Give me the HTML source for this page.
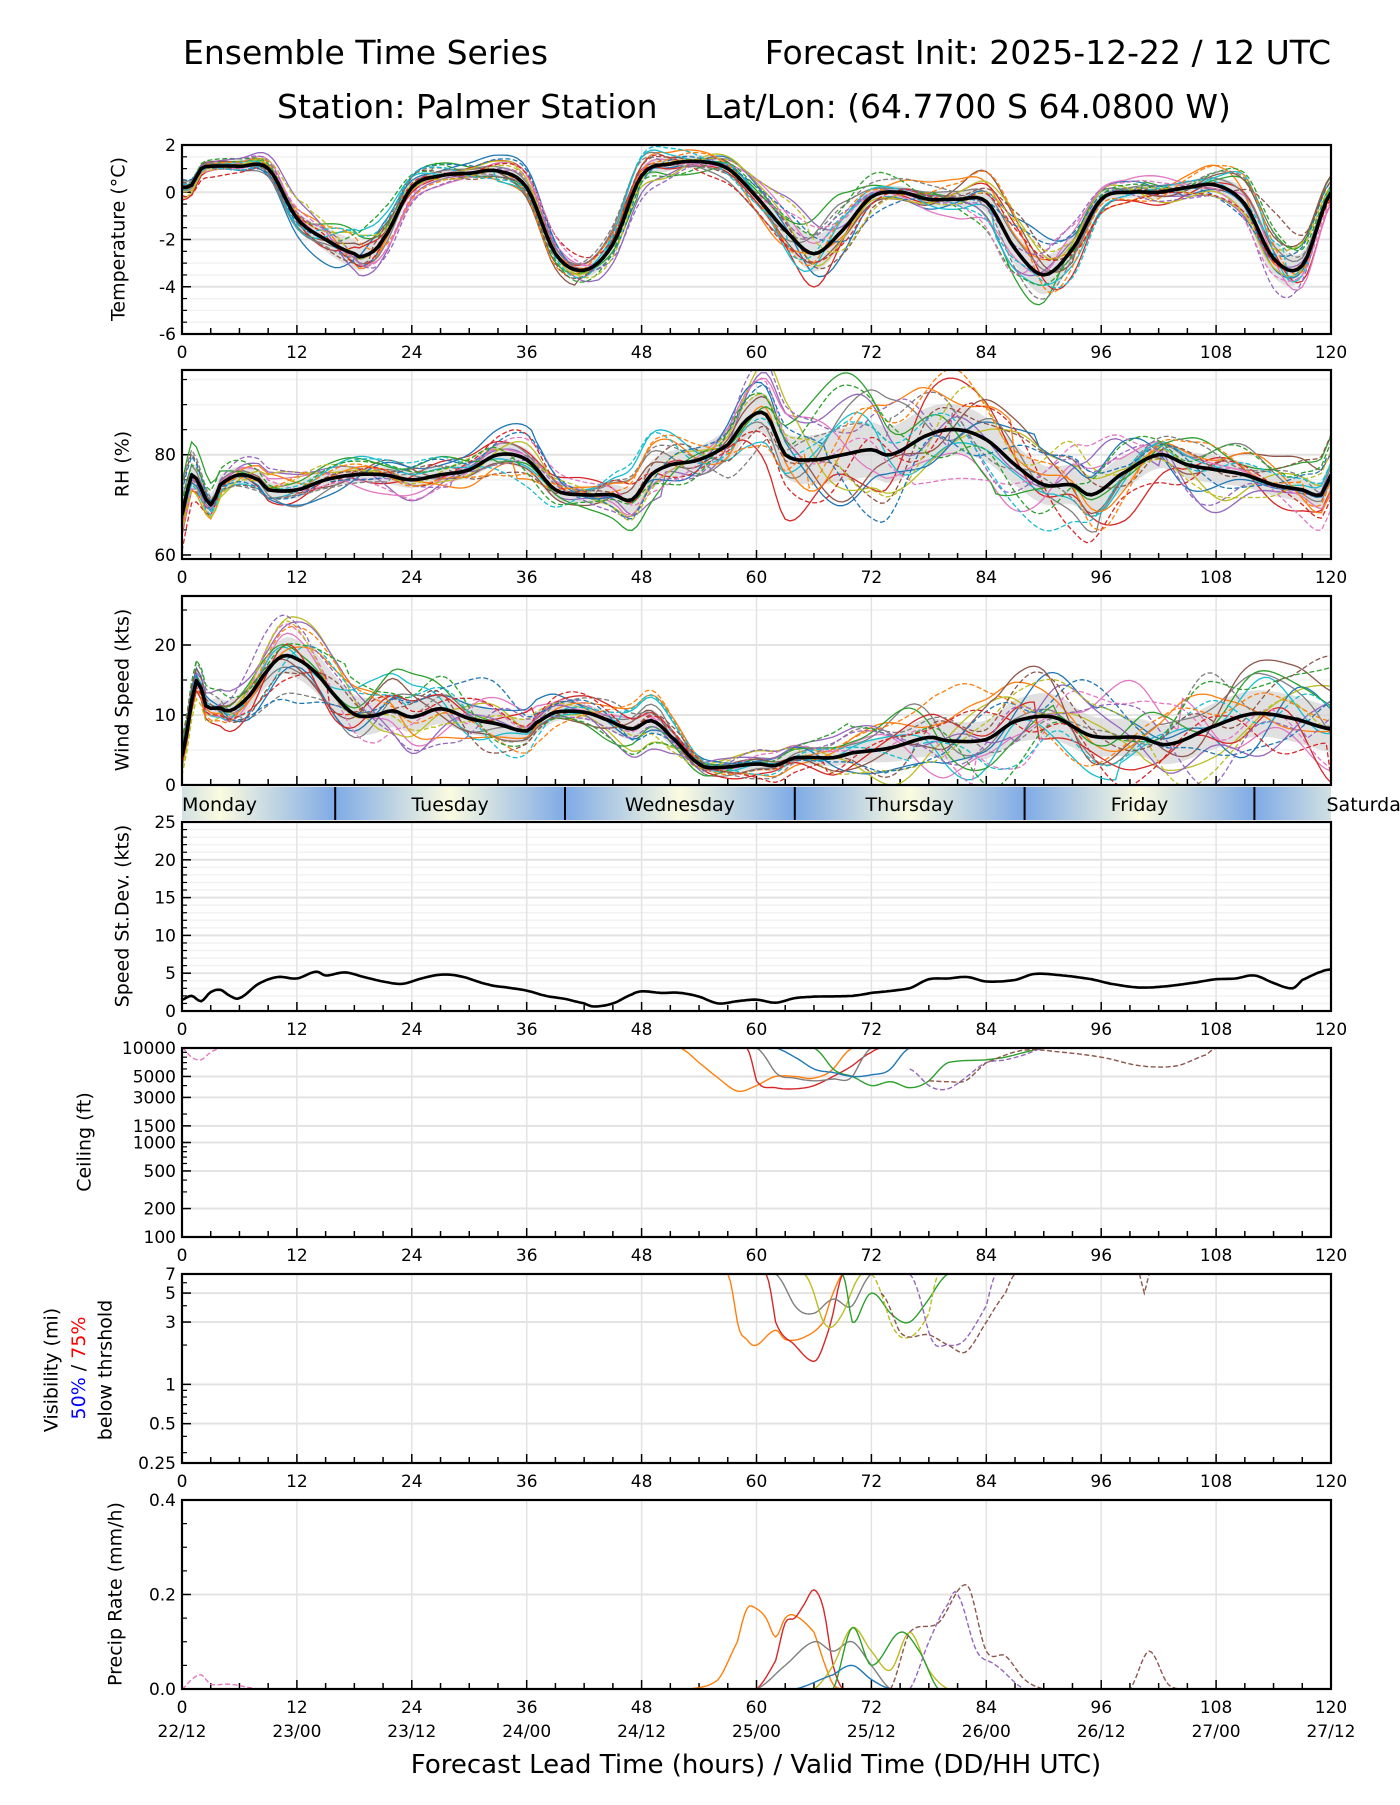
<!DOCTYPE html>
<html><head><meta charset="utf-8"><style>
html,body{margin:0;padding:0;background:#fff;}
svg text{font-family:"DejaVu Sans","Liberation Sans",sans-serif;}
</style></head><body>
<svg id="chart" xmlns="http://www.w3.org/2000/svg" width="1400" height="1800" viewBox="0 0 1400 1800">
<defs>
<linearGradient id="dayGrad" gradientUnits="userSpaceOnUse" x1="105" y1="0" x2="1407" y2="0"></linearGradient>
</defs>
<text x="183" y="64" font-size="33">Ensemble Time Series</text>
<text x="1331" y="64" font-size="33" text-anchor="end">Forecast Init: 2025-12-22 / 12 UTC</text>
<text x="277" y="118" font-size="33">Station: Palmer Station</text>
<text x="704" y="118" font-size="33">Lat/Lon: (64.7700 S 64.0800 W)</text>
<g id="layer"></g>
</svg>
<script>
// ---------- data ----------
const hoursT = [0,1,2,3,6,9,12,15,18,19,21,24,27,30,33,36,39,42,45,48,51,54,57,60,63,66,69,72,75,78,81,84,87,90,93,96,99,102,105,108,111,114,117,120];
const tempMean = [0.2,0.3,1.0,1.1,1.1,1.0,-1.1,-2.0,-2.6,-2.7,-2.0,0.2,0.7,0.8,0.9,0.2,-2.6,-3.3,-2.2,0.7,1.2,1.3,1.0,-0.2,-1.6,-2.6,-1.6,-0.2,0.0,-0.3,-0.3,-0.4,-2.4,-3.5,-2.4,-0.3,0.0,0.0,0.2,0.3,-0.5,-2.8,-3.1,0.0];
const hoursRH = [0,1,3,4,6,8,9,12,15,18,21,24,27,30,33,36,39,42,45,47,49,51,54,57,59,61,63,66,69,72,74,78,81,84,87,90,93,95,98,102,105,108,111,114,117,119,120];
const rhMean = [68,76,70,74,76,75,73,73,75,76,76,75,76,77,80,79,73,72,72,71,76,78,79,82,87,88,80,79,80,81,80,84,85,83,78,74,74,72,76,80,78,77,76,74,73,72,76];
const hoursW = [0,1.5,2.5,4,5,7,9,10.5,12,14,16,18,20,22,24,27,30,33,36,37,39,42,44,47,49,51,54,56,60,62,64,68,70,74,78,80,84,87,91,95,100,103,108,112,116,120];
const windMean = [4.1,14.9,11.3,11,10.6,12.7,16.5,18.4,18,16,12.7,10.1,9.9,10.6,9.7,10.9,9.5,8.7,7.7,8.9,10.4,10.4,9.5,8,9.2,7,3,2.5,3,2.8,3.9,3.9,4.6,5.3,6.8,6.3,6.5,9.1,9.7,7,6.8,5.8,8.5,10.2,9.5,8];
const hoursSD = [0,1,2,3,4,5,6,8,10,12,14,15,17,19,21,23,25,27,29,32,34,36,38,40,42,43,45,47,48,50,52,54,56,58,60,62,64,66,70,72,76,78,80,82,84,87,89,92,95,97,100,103,106,108,110,112,114,116,117,119,120];
const speedStd = [1.5,2.0,1.3,2.5,2.8,2.0,1.7,3.6,4.5,4.3,5.2,4.7,5.1,4.5,3.9,3.6,4.3,4.8,4.6,3.5,3.1,2.7,2.0,1.6,1.0,0.6,1.0,2.2,2.6,2.4,2.4,1.9,1.0,1.3,1.5,1.1,1.7,1.9,2.0,2.4,3.0,4.2,4.3,4.5,3.9,4.1,4.9,4.7,4.2,3.6,3.1,3.3,3.8,4.2,4.3,4.7,3.7,3.0,4.1,5.2,5.5];
const spreadHours = [0,6,12,18,24,30,36,42,48,54,60,66,72,78,84,90,96,102,108,114,120];
const tempSpread = [0.4,0.3,0.6,1.1,0.5,0.4,0.5,0.6,0.6,0.5,0.6,1.4,0.6,0.5,0.8,1.5,0.5,0.5,0.6,1.4,0.5];
const rhSpread = [5,3,3,3,3,3,4,3,5,5,7,9,10,10,8,7,7,5,5,4,5];
const windSpread = [2,3,5,5,4,4,3,2,3,1.5,1.5,2,3,5,5,6,5,5,6,6,6];
const devHours = [0,12,24,36,48,60,72,84,96,108,120];
const memberDev0 = [0.5,-1.2,0.8,1.5,-0.6,1.0,-1.4,0.3,1.2,-0.8,0.6];
const memberDev1 = [-0.8,0.9,-0.5,-1.0,1.3,-0.7,0.6,1.4,-0.9,1.1,-0.4];
const memberDev2 = [1.2,0.3,1.4,-0.6,-1.1,0.4,1.5,-1.2,0.2,0.9,1.3];
const memberDev3 = [-1.3,-0.4,0.2,0.9,0.7,-1.5,-0.3,0.8,-1.4,-0.2,-1.1];
const memberDev4 = [0.2,1.5,-1.3,0.4,-1.4,1.2,0.9,-0.5,1.0,-1.5,0.3];
const memberDev5 = [0.9,-0.9,1.0,-1.4,0.5,-0.2,-1.0,1.3,-0.3,0.5,1.5];
const memberDev6 = [-0.3,0.6,-1.1,1.2,-0.2,0.8,0.4,-1.4,1.5,0.2,-1.3];
const memberDev7 = [1.4,-1.5,0.5,-0.2,1.0,-1.1,1.2,0.1,-0.7,1.4,-0.6];
const memberDev8 = [-1.0,1.1,-0.2,0.7,-0.9,1.5,-1.2,0.9,0.6,-1.0,0.9];
const memberDev9 = [0.1,-0.2,1.3,-1.2,1.4,-0.5,0.2,-0.8,-1.1,0.7,-0.1];
const memberDevs = [memberDev0,memberDev1,memberDev2,memberDev3,memberDev4,memberDev5,memberDev6,memberDev7,memberDev8,memberDev9];
// ceiling members [hour, ft]
const ceilOrangeH = [52,54,56,58,60,62,64,66,68,70], ceilOrangeV = [10000,7000,4800,3500,4000,5000,5000,4800,6000,10000];
const ceilRedH = [59,60,62,64,66,68,70,72,73], ceilRedV = [10000,4500,3800,3700,4000,5000,6500,9000,10000];
const ceilGreenH = [66,68,70,72,74,76,78,80,84,86,88,90], ceilGreenV = [10000,6000,5000,4000,4400,3800,4500,7000,7500,8000,9000,10000];
const ceilGrayH = [60,62,64,66,68,70,72], ceilGrayV = [10000,5500,4800,4500,4700,5000,10000];
const ceilBlueH = [62,64,66,68,70,72,74,76], ceilBlueV = [10000,8000,6000,5500,5000,5200,6000,10000];
const ceilPurpleH = [76,78,80,82,84,86,88,90], ceilPurpleV = [6000,4000,3700,5000,7000,7500,8500,10000];
const ceilBrownH = [78,80,82,84,88,92,96,100,104,107,108], ceilBrownV = [4500,4400,4600,7000,9500,9000,8000,6500,6500,8500,10000];
const ceilPinkH = [0,1,2,3,4], ceilPinkV = [10000,8000,7500,9000,10000];
// visibility members [hour, mi]
const visOrangeH = [57,58,59,60,62,63,65,67,68,69], visOrangeV = [7,3,2.2,2,2.6,2.2,2.3,3,5,7];
const visRedH = [61,62,64,66,67,68,69], visRedV = [7,3,2,1.5,2,3.5,7];
const visGrayH = [62,64,66,68,70,72], visGrayV = [7,4,3.5,4.5,4,7];
const visOliveH = [65,67,69,71], visOliveV = [7,3,3.5,7];
const visGreenH = [69,70,72,74,76,78,80], visGreenV = [7,3,5,3.5,3,4.5,7];
const visOliveDashH = [72,74,76,78,79], visOliveDashV = [7,3,2.3,3.5,7];
const visBrownH = [73,75,78,80,82,84,86,87], visBrownV = [5,2.5,2.4,2.0,1.8,3,5,7];
const visPurpleH = [76,78,80,82,84,85], visPurpleV = [7,2.5,2,2.3,4,7];
const visBrown2H = [100,100.5,101], visBrown2V = [7,5,7];
// precip members [hour, mm/h]
const prOrangeH = [53,56,58,59,60,61,62,63,64,66,67,68,69], prOrangeV = [0,0.02,0.1,0.17,0.17,0.15,0.11,0.15,0.155,0.12,0.06,0.01,0];
const prRedH = [60,62,63,64,65,66,67,68,69], prRedV = [0,0.06,0.14,0.15,0.18,0.21,0.17,0.05,0];
const prGrayH = [60,63,66,68,70,72,74], prGrayV = [0,0.05,0.1,0.08,0.1,0.05,0];
const prOliveH = [66,68,70,72,74,76,78,80], prOliveV = [0,0.05,0.13,0.08,0.04,0.12,0.04,0];
const prGreenH = [68,70,72,75,77,79], prGreenV = [0,0.13,0.05,0.12,0.08,0];
const prBrownH = [74,76,79,82,84,86,88,90,99,101,103,105], prBrownV = [0,0.12,0.14,0.22,0.08,0.07,0.02,0,0,0.08,0.01,0];
const prPurpleH = [76,78,80,81,83,85,88], prPurpleV = [0,0.1,0.18,0.2,0.08,0.05,0];
const prBlueH = [64,68,70,72,74], prBlueV = [0,0.03,0.05,0.02,0];
const prPinkH = [0,1,2,3,5,8], prPinkV = [0,0.02,0.03,0.01,0.01,0];
const xTicks = [0,12,24,36,48,60,72,84,96,108,120];
const dateLabels = ["22/12","23/00","23/12","24/00","24/12","25/00","25/12","26/00","26/12","27/00","27/12"];
const dayNames = ["Monday","Tuesday","Wednesday","Thursday","Friday","Saturday"];
const dayCenters = [4,28,52,76,100,124];
const dayBounds = [16,40,64,88,112];

// ---------- helpers ----------
const NS = "http://www.w3.org/2000/svg";
const layer = document.getElementById("layer");
const X0 = 182, X1 = 1331;
const tab = ["#1f77b4","#ff7f0e","#2ca02c","#d62728","#9467bd","#8c564b","#e377c2","#7f7f7f","#bcbd22","#17becf"];
function X(h){ return X0 + h*(X1-X0)/120; }
function mk(tag, attrs, parent){ const e=document.createElementNS(NS,tag); for(const k in attrs) e.setAttribute(k,attrs[k]); (parent||layer).appendChild(e); return e; }
function interp(hs, vs, h){
  if(h<=hs[0]) return vs[0];
  if(h>=hs[hs.length-1]) return vs[vs.length-1];
  let i=0; while(hs[i+1]<h) i++;
  const t=(h-hs[i])/(hs[i+1]-hs[i]);
  const p0=vs[Math.max(i-1,0)], p1=vs[i], p2=vs[i+1], p3=vs[Math.min(i+2,vs.length-1)];
  const t2=t*t,t3=t2*t;
  return 0.5*((2*p1)+(-p0+p2)*t+(2*p0-5*p1+4*p2-p3)*t2+(-p0+3*p1-3*p2+p3)*t3);
}
function makeY(p){
  return function(v){
    if(p.log){ const lv=Math.log(Math.max(v,1e-6)); return p.bot - (lv-Math.log(p.min))/(Math.log(p.max)-Math.log(p.min))*(p.bot-p.top); }
    return p.bot - (v-p.min)/(p.max-p.min)*(p.bot-p.top);
  };
}
function pathFrom(pts){ return pts.map((q,i)=>(i?"L":"M")+q[0].toFixed(1)+","+q[1].toFixed(1)).join(""); }

function drawAxes(p, name){
  const Y = makeY(p);
  const g = mk("g",{});
  
  
  (p.minor||[]).forEach(v=>{ mk("line",{x1:X0,x2:X1,y1:Y(v),y2:Y(v),stroke:"#f2f2f2","stroke-width":1.5},g); });
  xTicks.forEach(h=>{ mk("line",{x1:X(h),x2:X(h),y1:p.top,y2:p.bot,stroke:"#e3e3e3","stroke-width":1.5},g); });
  p.ticks.forEach(v=>{ mk("line",{x1:X0,x2:X1,y1:Y(v),y2:Y(v),stroke:"#e3e3e3","stroke-width":2},g); });
  for(let h=0;h<=120;h+=3){ const L=(h%12===0)?9:6; mk("line",{x1:X(h),x2:X(h),y1:p.bot,y2:p.bot-L,stroke:"#000","stroke-width":1.5},g); }
  p.ticks.forEach(v=>{ mk("line",{x1:X0,x2:X0+9,y1:Y(v),y2:Y(v),stroke:"#000","stroke-width":1.5},g); });
  (p.minorTicks||p.minor||[]).forEach(v=>{ mk("line",{x1:X0,x2:X0+5,y1:Y(v),y2:Y(v),stroke:"#000","stroke-width":1.2},g); });
  p.ticks.forEach((v,i)=>{
    const t=mk("text",{x:X0-6,y:Y(v)+6,"font-size":17,"text-anchor":"end"},g);
    t.textContent = p.labels ? p.labels[i] : String(v);
    
    
  });
  if(!p.noX){
    xTicks.forEach(h=>{
      const t=mk("text",{x:X(h),y:p.bot+24,"font-size":17,"text-anchor":"middle"},g);
      t.textContent=String(h);
      
      
    });
  }
  return Y;
}
function frame(p,name){
  const r=mk("rect",{x:X0,y:p.top,width:X1-X0,height:p.bot-p.top,fill:"none",stroke:"#000","stroke-width":2.2});
  
  
}
function ylabel(txt,x,cy,name){
  const t=mk("text",{x:x,y:cy,"font-size":19,"text-anchor":"middle",transform:`rotate(-90 ${x} ${cy})`,"dominant-baseline":"middle"});
  t.textContent=txt;
  
  
}
function clipFor(p,id){
  const defs=document.querySelector("defs");
  const c=document.createElementNS(NS,"clipPath"); c.setAttribute("id",id);
  const r=document.createElementNS(NS,"rect"); r.setAttribute("x",X0); r.setAttribute("y",p.top); r.setAttribute("width",X1-X0); r.setAttribute("height",p.bot-p.top);
  c.appendChild(r); defs.appendChild(c);
}
function ensemblePanel(p, name, hs, mean, spread, shift){
  const Y = drawAxes(p,name);
  clipFor(p,name+"-clip");
  const g=mk("g",{"clip-path":`url(#${name}-clip)`});
  
  
  const up=[],lo=[];
  for(let h=0;h<=120;h+=0.5){ const m=interp(hs,mean,h), s=interp(spreadHours,spread,h); up.push([X(h),Y(m+0.55*s)]); lo.push([X(h),Y(m-0.55*s)]); }
  const band=mk("path",{d:pathFrom(up.concat(lo.reverse()))+"Z",fill:"#d6d6d6","fill-opacity":0.75,stroke:"none"},g);
  
  
  for(let k=0;k<20;k++){
    const dev=memberDevs[(k+shift)%10], dev2=memberDevs[(k*3+shift+1)%10];
    const pts=[];
    for(let h=0;h<=120;h+=0.5){
      const m=interp(hs,mean,h), s=interp(spreadHours,spread,h);
      const d=interp(devHours,dev,h)*0.7 + interp(devHours,dev2,(h*2.3+k*5)%120)*0.45;
      pts.push([X(h),Y(m+d*s)]);
    }
    const l=mk("path",{d:pathFrom(pts),fill:"none",stroke:tab[(k+shift)%10],"stroke-width":1.3,"stroke-dasharray":k>=10?"5,2.5":"none"},g);
    
    
  }
  const pts=[]; for(let h=0;h<=120;h+=0.5) pts.push([X(h),Y(interp(hs,mean,h))]);
  const ml=mk("path",{d:pathFrom(pts),fill:"none",stroke:"#000","stroke-width":3.6,"stroke-linejoin":"round"},g);
  
  
  frame(p,name);
}
function sparsePanel(p,name,series){
  const Y = drawAxes(p,name);
  clipFor(p,name+"-clip");
  const g=mk("g",{"clip-path":`url(#${name}-clip)`});
  
  
  series.forEach(s=>{
    const hs=s[0], vs=s[1], pts=[];
    for(let h=hs[0]; h<=hs[hs.length-1]+1e-6; h+=0.25){
      let v=interp(hs,vs,h); if(p.log) v=Math.max(v,p.min*0.9); else v=Math.max(v,0);
      pts.push([X(h),Y(v)]);
    }
    const l=mk("path",{d:pathFrom(pts),fill:"none",stroke:s[2],"stroke-width":1.4,"stroke-dasharray":s[3]?"5,2.5":"none"},g);
    
    
  });
  frame(p,name);
}

// ---------- panels ----------
const pT={top:145,bot:334,min:-6,max:2,ticks:[-6,-4,-2,0,2],minor:[-5.5,-5,-4.5,-3.5,-3,-2.5,-1.5,-1,-0.5,0.5,1,1.5]};
ensemblePanel(pT,"temperature",hoursT,tempMean,tempSpread,0);
ylabel("Temperature (°C)",119,239,"temperature-y-axis-title");

const pR={top:370,bot:559,min:59.2,max:96.9,ticks:[60,80],minor:[65,70,75,85,90,95]};
ensemblePanel(pR,"rh",hoursRH,rhMean,rhSpread,3);
ylabel("RH (%)",123,464,"rh-y-axis-title");

const pW={top:596,bot:785,min:0,max:27,ticks:[0,10,20],minor:[5,15,25],noX:true};
ensemblePanel(pW,"wind-speed",hoursW,windMean,windSpread,6);
ylabel("Wind Speed (kts)",123,690,"wind-y-axis-title");

// day band
(function(){
  const grad=document.getElementById("dayGrad");
  const gx0=X(-8), gx1=X(128);
  grad.setAttribute("x1",gx0); grad.setAttribute("x2",gx1);
  for(let h=-8;h<=128;h+=12){
    const st=document.createElementNS(NS,"stop");
    const isYellow = ((h-4)%24+24)%24===0;
    st.setAttribute("offset",((X(h)-gx0)/(gx1-gx0)));
    st.setAttribute("stop-color",isYellow?"#fbfbe0":"#7eaae6");
    grad.appendChild(st);
  }
  const bandG=mk("g",{});
  
  
  mk("rect",{x:X0,y:787,width:X1-X0,height:33,fill:"url(#dayGrad)"},bandG);
  dayBounds.forEach(h=>{
    const l=mk("line",{x1:X(h),x2:X(h),y1:787,y2:820,stroke:"#000","stroke-width":2},bandG);
    
    
  });
  dayNames.forEach((d,i)=>{
    const t=mk("text",{x:i===0?X0:X(dayCenters[i]),y:811,"font-size":19,"text-anchor":i===0?"start":"middle"},bandG);
    t.textContent=d;
    
    
  });
})();

const pS={top:822,bot:1011,min:0,max:25,ticks:[0,5,10,15,20,25],minor:[1,2,3,4,6,7,8,9,11,12,13,14,16,17,18,19,21,22,23,24]};
(function(){
  const Y=drawAxes(pS,"speed-stdev");
  const pts=[]; for(let h=0;h<=120;h+=0.25) pts.push([X(h),Y(interp(hoursSD,speedStd,h))]);
  const l=mk("path",{d:pathFrom(pts),fill:"none",stroke:"#000","stroke-width":2.6});
  
  
  frame(pS,"speed-stdev");
})();
ylabel("Speed St.Dev. (kts)",123,916,"speed-stdev-y-axis-title");

const pC={top:1048,bot:1237,min:100,max:10000,log:true,ticks:[100,200,500,1000,1500,3000,5000,10000],minorTicks:[300,400,600,700,800,900,2000,4000,6000,7000,8000,9000]};
sparsePanel(pC,"ceiling",[
  [ceilOrangeH,ceilOrangeV,tab[1],0],[ceilRedH,ceilRedV,tab[3],0],[ceilGreenH,ceilGreenV,tab[2],0],
  [ceilGrayH,ceilGrayV,tab[7],0],[ceilBlueH,ceilBlueV,tab[0],0],[ceilPurpleH,ceilPurpleV,tab[4],1],
  [ceilBrownH,ceilBrownV,tab[5],1],[ceilPinkH,ceilPinkV,tab[6],1]
]);
ylabel("Ceiling (ft)",85,1142,"ceiling-y-axis-title");

const pV={top:1274,bot:1463,min:0.25,max:7,log:true,ticks:[0.25,0.5,1,3,5,7],minorTicks:[0.3,0.4,0.6,0.7,0.8,0.9,2,4,6]};
sparsePanel(pV,"visibility",[
  [visOrangeH,visOrangeV,tab[1],0],[visRedH,visRedV,tab[3],0],[visGrayH,visGrayV,tab[7],0],
  [visOliveH,visOliveV,tab[8],0],[visGreenH,visGreenV,tab[2],0],[visOliveDashH,visOliveDashV,tab[8],1],
  [visBrownH,visBrownV,tab[5],1],[visPurpleH,visPurpleV,tab[4],1],[visBrown2H,visBrown2V,tab[5],1]
]);
(function(){
  const lines=[[52,"Visibility (mi)"],[106,"below thrshold"]];
  lines.forEach(([x,s],i)=>{
    const t=mk("text",{x:x,y:1370,"font-size":19,"text-anchor":"middle",transform:`rotate(-90 ${x} 1370)`,"dominant-baseline":"middle"});
    t.textContent=s;
    
    
  });
  const t=mk("text",{x:79,y:1368,"font-size":19,"text-anchor":"middle",transform:"rotate(-90 79 1368)","dominant-baseline":"middle"});
  
  
  t.innerHTML='<tspan fill="#0000ff">50%</tspan> / <tspan fill="#ff0000">75%</tspan>';
})();

const pP={top:1500,bot:1689,min:0,max:0.4,ticks:[0,0.2,0.4],labels:["0.0","0.2","0.4"],minorTicks:[0.05,0.1,0.15,0.25,0.3,0.35]};
sparsePanel(pP,"precip",[
  [prOrangeH,prOrangeV,tab[1],0],[prRedH,prRedV,tab[3],0],[prGrayH,prGrayV,tab[7],0],
  [prOliveH,prOliveV,tab[8],0],[prGreenH,prGreenV,tab[2],0],[prBrownH,prBrownV,tab[5],1],
  [prPurpleH,prPurpleV,tab[4],1],[prBlueH,prBlueV,tab[0],0],[prPinkH,prPinkV,tab[6],1]
]);
ylabel("Precip Rate (mm/h)",116,1594,"precip-y-axis-title");
xTicks.forEach((h,i)=>{
  const t=mk("text",{x:X(h),y:1737,"font-size":17,"text-anchor":"middle"});
  t.textContent=dateLabels[i];
  
  
});
(function(){
  const t=mk("text",{x:756,y:1773,"font-size":26,"text-anchor":"middle"});
  t.textContent="Forecast Lead Time (hours) / Valid Time (DD/HH UTC)";
  
  
})();
</script>
</body></html>
